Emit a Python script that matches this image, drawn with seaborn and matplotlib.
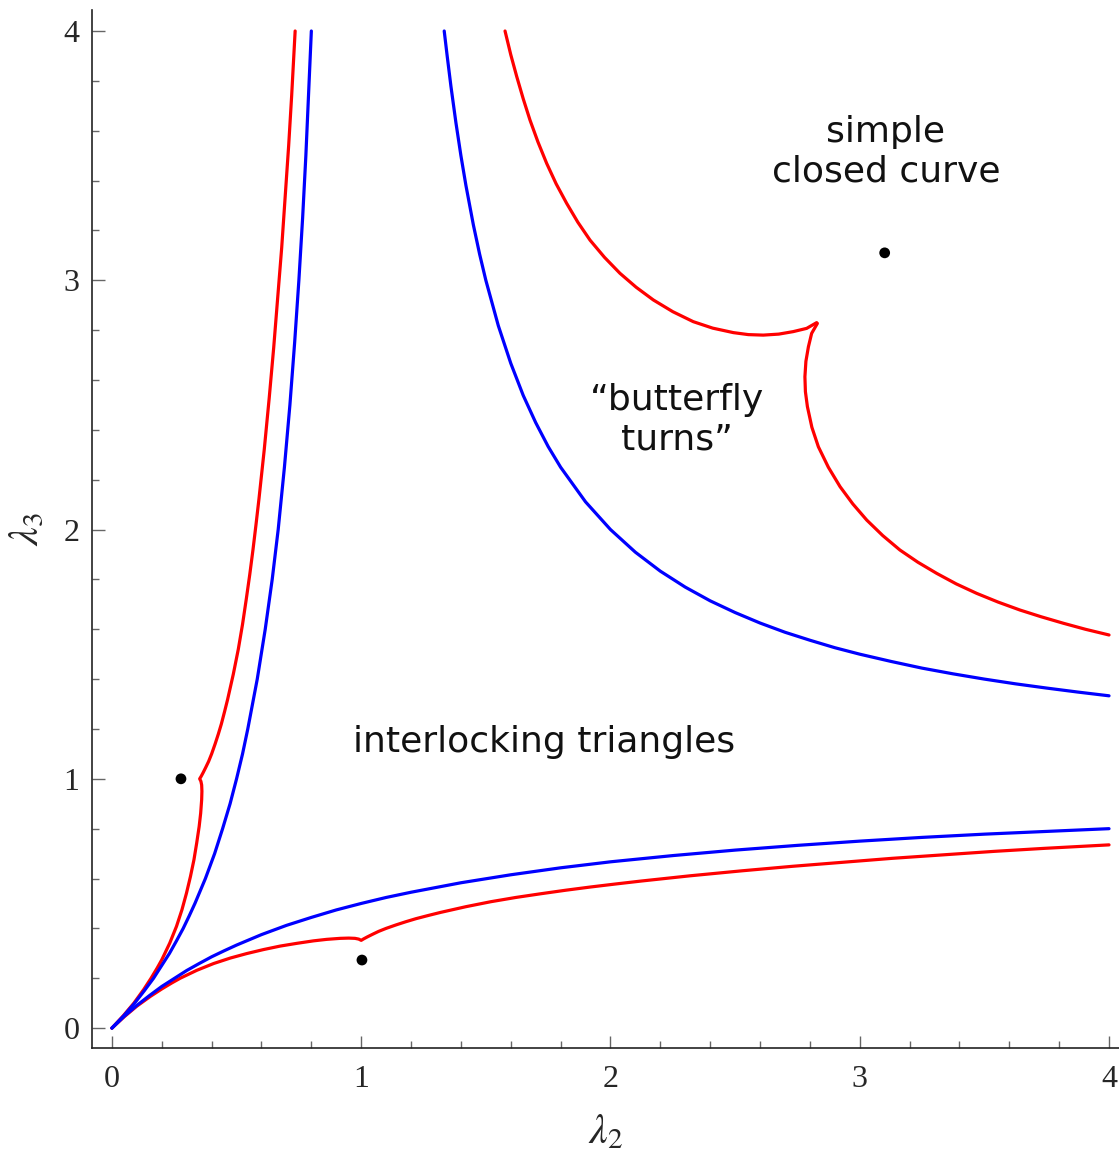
import seaborn as sns
import matplotlib.pyplot as plt
from matplotlib.ticker import MultipleLocator
import pandas as pd

# lower red branch (the left red branch is its mirror image in the diagonal)
red_low_x = [0, 0.05, 0.1, 0.154, 0.2, 0.24, 0.274, 0.341, 0.408, 0.475, 0.541,
             0.608, 0.675, 0.742, 0.809, 0.862, 0.916, 0.95, 0.975, 0.99, 1.0,
             1.01, 1.025, 1.045, 1.07, 1.1, 1.14, 1.18, 1.22, 1.27, 1.318, 1.42,
             1.52, 1.62, 1.721, 1.82, 1.92, 2.02, 2.124, 2.32, 2.528, 2.73, 2.93,
             3.13, 3.335, 3.54, 3.74, 3.87, 4.0]
red_low_y = [0, 0.046, 0.088, 0.127, 0.157, 0.181, 0.2, 0.232, 0.259, 0.281, 0.299,
             0.315, 0.329, 0.34, 0.35, 0.356, 0.36, 0.361, 0.36, 0.357, 0.352,
             0.358, 0.366, 0.376, 0.388, 0.4, 0.414, 0.427, 0.439, 0.452, 0.464,
             0.487, 0.507, 0.524, 0.539, 0.553, 0.566, 0.578, 0.59, 0.611, 0.631,
             0.649, 0.665, 0.681, 0.695, 0.709, 0.721, 0.728, 0.735]

# upper right red branch, top edge down to the cusp (other half is mirrored)
red_up_x = [1.577, 1.6, 1.624, 1.65, 1.677, 1.709, 1.744, 1.782, 1.824, 1.869,
            1.918, 1.976, 2.038, 2.103, 2.172, 2.25, 2.332, 2.41, 2.493, 2.553,
            2.613, 2.675, 2.733, 2.787, 2.827]
red_up_y = [4.0, 3.905, 3.817, 3.728, 3.643, 3.555, 3.469, 3.387, 3.309, 3.233,
            3.161, 3.092, 3.028, 2.972, 2.921, 2.874, 2.834, 2.808, 2.79, 2.782,
            2.78, 2.784, 2.794, 2.807, 2.83]

# lower blue curve (left blue curve is its mirror)
blue_low_x = [0, 0.025, 0.05, 0.1, 0.15, 0.2, 0.3, 0.35, 0.4, 0.45, 0.5, 0.6, 0.7,
              0.8, 0.9, 1.0, 1.1, 1.2, 1.4, 1.6, 1.8, 2.0, 2.25, 2.5, 2.75, 3.0,
              3.25, 3.5, 3.75, 4.0]
blue_low_y = [0, 0.024, 0.048, 0.091, 0.13, 0.167, 0.231, 0.259, 0.286, 0.31, 0.333,
              0.375, 0.412, 0.444, 0.474, 0.5, 0.524, 0.545, 0.583, 0.615, 0.643,
              0.667, 0.692, 0.714, 0.733, 0.75, 0.765, 0.778, 0.789, 0.8]

# middle blue curve
blue_mid_x = [1.333, 1.345, 1.36, 1.38, 1.4, 1.42, 1.45, 1.475, 1.5, 1.55, 1.6,
              1.65, 1.7, 1.75, 1.8, 1.9, 2.0, 2.1, 2.2, 2.3, 2.4, 2.5, 2.6, 2.7,
              2.8, 2.9, 3.0, 3.125, 3.25, 3.375, 3.5, 3.625, 3.75, 3.875, 4.0]
blue_mid_y = [4.0, 3.899, 3.778, 3.632, 3.5, 3.381, 3.222, 3.105, 3.0, 2.818, 2.667,
              2.538, 2.429, 2.333, 2.25, 2.111, 2.0, 1.909, 1.833, 1.769, 1.714,
              1.667, 1.625, 1.588, 1.556, 1.526, 1.5, 1.471, 1.444, 1.421, 1.4,
              1.381, 1.364, 1.348, 1.333]

# sample points
dot_x = [0.277, 1.003, 3.1]
dot_y = [1.0, 0.273, 3.11]

sns.set_style('ticks')
plt.rcParams['mathtext.fontset'] = 'stix'

fig = plt.figure(figsize=(11.19, 11.56), dpi=100)
ax = fig.add_axes([0.0822, 0.0934, 0.9178, 0.8979])

lw = 2.3
curves = [
    (red_low_x, red_low_y, 'red'),
    (red_low_y, red_low_x, 'red'),
    (red_up_x, red_up_y, 'red'),
    (red_up_y, red_up_x, 'red'),
    (blue_low_x, blue_low_y, 'blue'),
    (blue_low_y, blue_low_x, 'blue'),
    (blue_mid_x, blue_mid_y, 'blue'),
]
for cx, cy, col in curves:
    df = pd.DataFrame({'x': cx, 'y': cy})
    sns.lineplot(data=df, x='x', y='y', sort=False, estimator=None,
                 color=col, linewidth=lw, ax=ax)

sns.scatterplot(x=dot_x, y=dot_y, color='black', s=60, edgecolor='none',
                ax=ax, zorder=5)

txt_kw = dict(fontsize=26, family='DejaVu Sans', ha='center', va='center',
              multialignment='center', color='#111111')
ax.text(3.105, 3.515, 'simple\nclosed curve', linespacing=1.2, **txt_kw)
ax.text(2.265, 2.44, '\u201cbutterfly\nturns\u201d', linespacing=1.2, **txt_kw)
ax.text(1.735, 1.147, 'interlocking triangles', **txt_kw)

ax.set_xlim(-0.08, 4.04)
ax.set_ylim(-0.08, 4.084)
ax.xaxis.set_major_locator(MultipleLocator(1))
ax.yaxis.set_major_locator(MultipleLocator(1))
ax.xaxis.set_minor_locator(MultipleLocator(0.2))
ax.yaxis.set_minor_locator(MultipleLocator(0.2))

sns.despine(ax=ax)
for s in ['left', 'bottom']:
    ax.spines[s].set_color('#222222')
    ax.spines[s].set_linewidth(1.2)

ax.tick_params(which='major', direction='in', length=9, width=1.0,
               color='#666666', labelsize=23, pad=12)
ax.tick_params(which='minor', direction='in', length=5, width=1.0,
               color='#666666')
ax.tick_params(axis='y', which='major', pad=9)
for lab in ax.get_xticklabels() + ax.get_yticklabels():
    lab.set_family('Liberation Serif')

ax.set_xlabel(r'$\lambda_2$', fontsize=30, labelpad=12)
ax.set_ylabel(r'$\lambda_3$', fontsize=30, labelpad=12)

fig.savefig('out.png', dpi=100)
